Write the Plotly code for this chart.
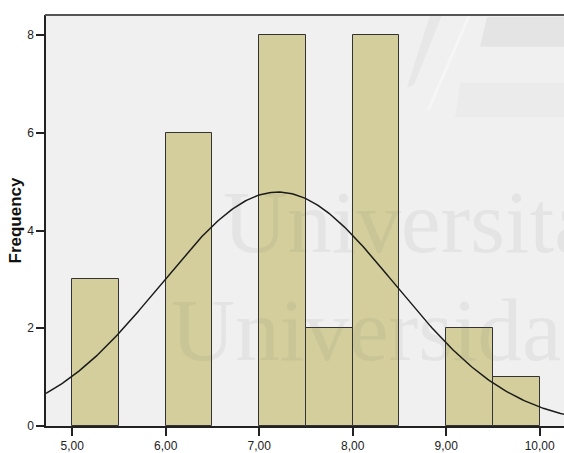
import numpy as np
import plotly.graph_objects as go

# ---- data ----
bin_left = [5.0, 6.0, 7.0, 7.5, 8.0, 9.0, 9.5]
counts = [3, 6, 8, 2, 8, 2, 1]
bin_width = 0.5
x_tickvals = [5, 6, 7, 8, 9, 10]
x_ticktext = ["5,00", "6,00", "7,00", "8,00", "9,00", "10,00"]
y_tickvals = [0, 2, 4, 6, 8]
fit_mean = 7.2
fit_sd = 1.25
n_total = sum(counts)

X_RANGE = [4.72, 10.26]
Y_RANGE = [0, 8.41]

centers = [b + bin_width / 2 for b in bin_left]

fig = go.Figure()
fig.add_trace(go.Bar(
    x=centers, y=counts, width=[bin_width] * len(counts),
    marker=dict(color="#D3CE9B", line=dict(color="#333333", width=1)),
    hoverinfo="skip", showlegend=False,
))

xs = np.linspace(X_RANGE[0], X_RANGE[1], 300)
ys = n_total * bin_width / (fit_sd * np.sqrt(2 * np.pi)) * np.exp(-0.5 * ((xs - fit_mean) / fit_sd) ** 2)
fig.add_trace(go.Scatter(x=xs, y=ys, mode="lines",
                         line=dict(color="#1a1a1a", width=1.5),
                         hoverinfo="skip", showlegend=False))

W, H = 564, 453
L, R, T, B = 46, 0, 15, 25
pw, ph = W - L - R, H - T - B


def px(xp):
    return (xp - L) / pw


def py(yp):
    return (H - B - yp) / ph


shapes = []


def poly(pts, color):
    path = "M " + " L ".join(f"{px(a)},{py(b)}" for a, b in pts) + " Z"
    return dict(type="path", xref="paper", yref="paper", path=path,
                fillcolor=color, line=dict(width=0), layer="below")

# faint watermark logo fragments (top right)
shapes.append(poly([(430, 15), (442, 15), (414, 85), (407, 88)], "#E7E7E7"))
shapes.append(poly([(487, 17), (564, 17), (564, 47), (480, 47)], "#E4E4E4"))
shapes.append(poly([(460, 83), (564, 83), (564, 118), (455, 118)], "#EBEBEB"))
shapes.append(poly([(468, 15), (471, 15), (430, 110), (427, 110)], "#F6F6F6"))
# top frame line
shapes.append(dict(type="line", xref="paper", yref="paper", x0=-0.002, x1=1, y0=1, y1=1,
                   line=dict(color="#555555", width=2)))

wm_font = dict(family="Liberation Serif", size=89, color="rgba(110,110,110,0.09)")
annotations = [
    dict(text="Universitat", xref="x", yref="y", x=6.59, y=4.18,
         xanchor="left", yanchor="middle", showarrow=False, font=wm_font),
    dict(text="Universidad", xref="x", yref="y", x=6.04, y=1.96,
         xanchor="left", yanchor="middle", showarrow=False, font=wm_font),
]

fig.update_layout(
    width=W, height=H,
    margin=dict(l=L, r=R, t=T, b=B, pad=0),
    paper_bgcolor="white", plot_bgcolor="#F0F0F0",
    bargap=0,
    shapes=shapes, annotations=annotations,
    font=dict(family="Liberation Sans", color="#222222"),
    xaxis=dict(range=X_RANGE, tickvals=x_tickvals, ticktext=x_ticktext,
               showgrid=False, zeroline=False, showline=True, linecolor="#222222", linewidth=1.5,
               ticks="outside", ticklen=8, tickcolor="#222222", tickwidth=1.5,
               tickfont=dict(size=12, color="#222222")),
    yaxis=dict(range=Y_RANGE, tickvals=y_tickvals,
               showgrid=False, zeroline=False, showline=True, linecolor="#222222", linewidth=1.5,
               ticks="outside", ticklen=8, tickcolor="#222222", tickwidth=1.5,
               tickfont=dict(size=12, color="#222222"),
               title=dict(text="<b>Frequency</b>", font=dict(size=17, color="#111111"), standoff=1)),
)

fig.write_html("out.html", config={"displayModeBar": False},
               post_script="document.body.style.margin='0px';document.body.style.overflow='hidden';")
